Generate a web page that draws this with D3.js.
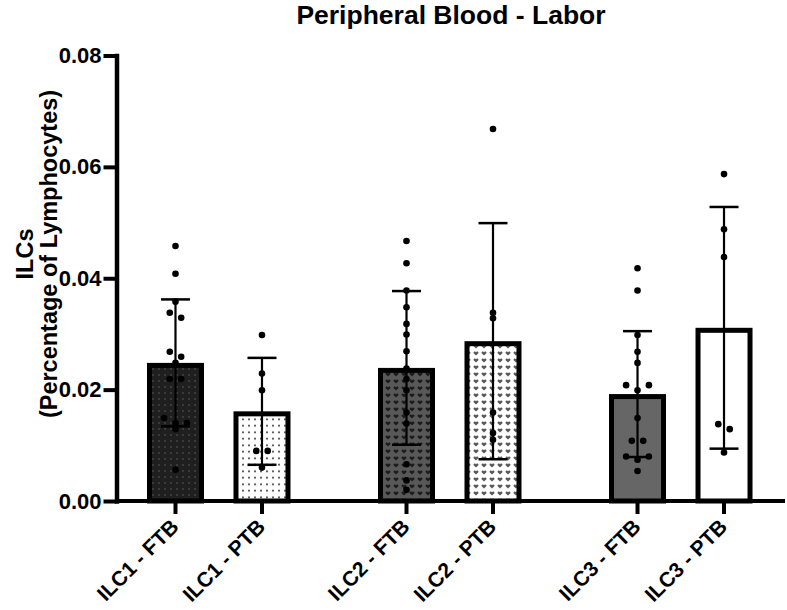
<!DOCTYPE html>
<html>
<head>
<meta charset="utf-8">
<script src="https://cdn.jsdelivr.net/npm/d3@7"></script>
<style>
  html, body { margin: 0; padding: 0; background: #fff; }
  svg { display: block; }
  text { font-family: "Liberation Sans", Arial, Helvetica, sans-serif; font-weight: bold; fill: #000; }
</style>
</head>
<body>
<svg id="chart" width="787" height="610"></svg>
<script>
// ---------------- data ----------------
const title = "Peripheral Blood - Labor";
const yTitleLines = ["ILCs", "(Percentage of Lymphocytes)"];
const groups = ["ILC1", "ILC2", "ILC3"];
const subgroups = ["FTB", "PTB"];
const categories = ["ILC1 - FTB", "ILC1 - PTB", "ILC2 - FTB", "ILC2 - PTB", "ILC3 - FTB", "ILC3 - PTB"];
const means = [0.0248, 0.0161, 0.0239, 0.0287, 0.0192, 0.0311];
const sds   = [0.0114, 0.0096, 0.0138, 0.0212, 0.0113, 0.0217];
const pointsILC1FTB = [0.0458, 0.0408, 0.0358, 0.0338, 0.0329, 0.0268, 0.0259, 0.0248, 0.0219, 0.0219, 0.0149, 0.0140, 0.0140, 0.0129, 0.0056];
const pointsILC1PTB = [0.0298, 0.0229, 0.0199, 0.0090, 0.0090, 0.0060];
const pointsILC2FTB = [0.0467, 0.0427, 0.0378, 0.0348, 0.0318, 0.0299, 0.0269, 0.0238, 0.0219, 0.0199, 0.0159, 0.0139, 0.0066, 0.0037, 0.0020];
const pointsILC2PTB = [0.0668, 0.0338, 0.0328, 0.0159, 0.0122, 0.0110];
const pointsILC3FTB = [0.0418, 0.0378, 0.0298, 0.0268, 0.0248, 0.0208, 0.0208, 0.0199, 0.0149, 0.0108, 0.0108, 0.0080, 0.0080, 0.0074, 0.0054];
const pointsILC3PTB = [0.0587, 0.0488, 0.0438, 0.0138, 0.0129, 0.0087];
const points = [pointsILC1FTB, pointsILC1PTB, pointsILC2FTB, pointsILC2PTB, pointsILC3FTB, pointsILC3PTB];
const yTicks = [0, 0.02, 0.04, 0.06, 0.08];

// ---------------- styles ----------------
const barFills = ["url(#pDarkDots)", "url(#pWhiteDots)", "url(#pDarkHearts)", "url(#pWhiteHearts)", "#666666", "#ffffff"];

// ---------------- layout ----------------
const svg = d3.select("#chart");
const y = d3.scaleLinear().domain([0, 0.08]).range([501, 55.5]);
const xOuter = d3.scaleBand().domain(groups).range([117, 782.5]).paddingInner(0.25).paddingOuter(0.0654);
const xInner = d3.scaleBand().domain(subgroups).range([0, xOuter.bandwidth()]).paddingInner(0.341).paddingOuter(0.172);
const cx = c => { const [g, s] = c.split(" - "); return xOuter(g) + xInner(s) + xInner.bandwidth() / 2; };
const barW = xInner.bandwidth();
const bw = 5; // bar border

// ---------------- patterns ----------------
const defs = svg.append("defs");
function dotPattern(id, bg, fg, w, h, r) {
  const p = defs.append("pattern").attr("id", id).attr("patternUnits", "userSpaceOnUse")
    .attr("width", w).attr("height", h);
  p.append("rect").attr("width", w).attr("height", h).attr("fill", bg);
  p.append("circle").attr("cx", w / 2).attr("cy", h / 2).attr("r", r).attr("fill", fg);
}
function heartPattern(id, bg, fg) {
  const p = defs.append("pattern").attr("id", id).attr("patternUnits", "userSpaceOnUse")
    .attr("width", 8).attr("height", 7);
  p.append("rect").attr("width", 8).attr("height", 7).attr("fill", bg);
  p.append("path").attr("d", "M4,5.6 L1.6,3.2 A1.25,1.25 0 0 1 4,2.3 A1.25,1.25 0 0 1 6.4,3.2 Z").attr("fill", fg);
}
dotPattern("pDarkDots", "#1f1f1f", "#5c5c5c", 6, 6, 0.8);
dotPattern("pWhiteDots", "#ffffff", "#111111", 6, 6.5, 0.9);
heartPattern("pDarkHearts", "#585858", "#1c1c1c");
heartPattern("pWhiteHearts", "#ffffff", "#5a5a5a");

// ---------------- title ----------------
svg.append("text").attr("x", 451).attr("y", 24).attr("text-anchor", "middle")
  .style("font-size", "26.5px").text(title);

// ---------------- y axis title ----------------
const yt = svg.append("text").attr("transform", "translate(0,254) rotate(-90)")
  .attr("text-anchor", "middle").style("font-size", "23.5px");
yt.selectAll("tspan").data(yTitleLines).join("tspan")
  .attr("x", 0).attr("y", (d, i) => 33 + i * 24).text(d => d);

// ---------------- bars ----------------
const data = categories.map((c, i) => ({ c, i, mean: means[i], sd: sds[i], pts: points[i] }));
svg.append("g").selectAll("rect").data(data).join("rect")
  .attr("x", d => cx(d.c) - barW / 2 + bw / 2)
  .attr("width", barW - bw)
  .attr("y", d => y(d.mean) + bw / 2)
  .attr("height", d => y(0) - y(d.mean) - bw / 2)
  .attr("fill", d => barFills[d.i])
  .attr("stroke", "#000").attr("stroke-width", bw);

// ---------------- error bars ----------------
const eg = svg.append("g").attr("stroke", "#000");
eg.selectAll("line.v").data(data).join("line").attr("class", "v")
  .attr("x1", d => cx(d.c)).attr("x2", d => cx(d.c))
  .attr("y1", d => y(d.mean + d.sd)).attr("y2", d => y(d.mean - d.sd))
  .attr("stroke-width", 2.2);
["top", "bot"].forEach(k => {
  eg.selectAll("line." + k).data(data).join("line").attr("class", k)
    .attr("x1", d => cx(d.c) - 14.5).attr("x2", d => cx(d.c) + 14.5)
    .attr("y1", d => y(k === "top" ? d.mean + d.sd : d.mean - d.sd))
    .attr("y2", d => y(k === "top" ? d.mean + d.sd : d.mean - d.sd))
    .attr("stroke-width", 2.5);
});

// ---------------- dots (simple row-based swarm) ----------------
const spacing = 11.4, rowTol = 5.5;
function swarm(pts) {
  const sorted = pts.slice().sort((a, b) => b - a).map(v => ({ v, py: y(v) }));
  const rows = [];
  sorted.forEach(p => {
    const last = rows[rows.length - 1];
    if (last && p.py - last[0].py < rowTol) last.push(p); else rows.push([p]);
  });
  const out = [];
  rows.forEach(r => {
    const n = r.length;
    let offs;
    if (n === 3) offs = [-spacing, spacing, 0];
    else offs = r.map((_, j) => (j - (n - 1) / 2) * spacing);
    r.forEach((p, j) => out.push({ v: p.v, dx: offs[j] }));
  });
  return out;
}
const dg = svg.append("g");
data.forEach(d => {
  dg.selectAll(null).data(swarm(d.pts)).join("circle")
    .attr("cx", p => cx(d.c) + p.dx).attr("cy", p => y(p.v)).attr("r", 3.3).attr("fill", "#000");
});

// ---------------- axes ----------------
const yAxis = svg.append("g").attr("transform", "translate(116.5,0)")
  .call(d3.axisLeft(y).tickValues(yTicks).tickFormat(d3.format(".2f")).tickSize(13).tickPadding(2).tickSizeOuter(0));
yAxis.select(".domain").attr("stroke-width", 4.5).attr("stroke-linecap", "square");
yAxis.selectAll(".tick line").attr("stroke-width", 4);
yAxis.selectAll(".tick text").style("font-size", "22px").attr("font-family", null).attr("fill", "#000");
yAxis.attr("font-family", null).attr("font-size", null);

const xg = svg.append("g");
xg.append("line").attr("x1", 115).attr("x2", 785).attr("y1", y(0)).attr("y2", y(0))
  .attr("stroke", "#000").attr("stroke-width", 4.2);
xg.selectAll("line.tick").data(categories).join("line").attr("class", "tick")
  .attr("x1", c => cx(c)).attr("x2", c => cx(c)).attr("y1", y(0)).attr("y2", y(0) + 13)
  .attr("stroke", "#000").attr("stroke-width", 4);
xg.selectAll("text").data(categories).join("text")
  .attr("transform", c => `translate(${cx(c) + 4.5},528) rotate(-45)`)
  .attr("text-anchor", "end").style("font-size", "21px").text(c => c);
</script>
</body>
</html>
